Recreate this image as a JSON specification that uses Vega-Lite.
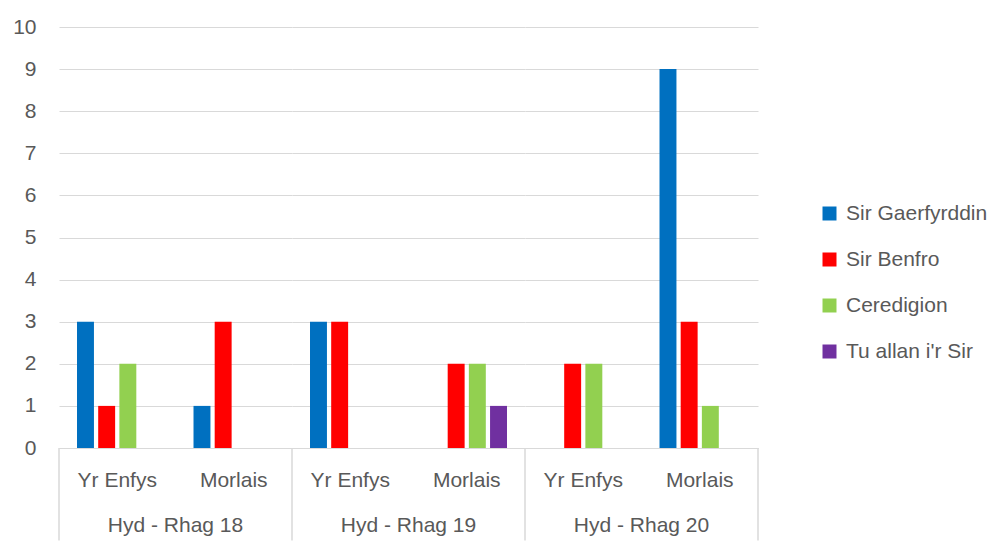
{
  "$schema": "https://vega.github.io/schema/vega-lite/v6.json",
  "padding": {"left": 12, "top": 16, "right": 5, "bottom": 5},
  "background": "white",
  "bounds": "flush",
  "data": {"values": [
    {"period": "Hyd - Rhag 18", "category": "Yr Enfys", "series": "Sir Gaerfyrddin", "value": 3},
    {"period": "Hyd - Rhag 18", "category": "Yr Enfys", "series": "Sir Benfro", "value": 1},
    {"period": "Hyd - Rhag 18", "category": "Yr Enfys", "series": "Ceredigion", "value": 2},
    {"period": "Hyd - Rhag 18", "category": "Yr Enfys", "series": "Tu allan i'r Sir", "value": 0},
    {"period": "Hyd - Rhag 18", "category": "Morlais", "series": "Sir Gaerfyrddin", "value": 1},
    {"period": "Hyd - Rhag 18", "category": "Morlais", "series": "Sir Benfro", "value": 3},
    {"period": "Hyd - Rhag 18", "category": "Morlais", "series": "Ceredigion", "value": 0},
    {"period": "Hyd - Rhag 18", "category": "Morlais", "series": "Tu allan i'r Sir", "value": 0},
    {"period": "Hyd - Rhag 19", "category": "Yr Enfys", "series": "Sir Gaerfyrddin", "value": 3},
    {"period": "Hyd - Rhag 19", "category": "Yr Enfys", "series": "Sir Benfro", "value": 3},
    {"period": "Hyd - Rhag 19", "category": "Yr Enfys", "series": "Ceredigion", "value": 0},
    {"period": "Hyd - Rhag 19", "category": "Yr Enfys", "series": "Tu allan i'r Sir", "value": 0},
    {"period": "Hyd - Rhag 19", "category": "Morlais", "series": "Sir Gaerfyrddin", "value": 0},
    {"period": "Hyd - Rhag 19", "category": "Morlais", "series": "Sir Benfro", "value": 2},
    {"period": "Hyd - Rhag 19", "category": "Morlais", "series": "Ceredigion", "value": 2},
    {"period": "Hyd - Rhag 19", "category": "Morlais", "series": "Tu allan i'r Sir", "value": 1},
    {"period": "Hyd - Rhag 20", "category": "Yr Enfys", "series": "Sir Gaerfyrddin", "value": 0},
    {"period": "Hyd - Rhag 20", "category": "Yr Enfys", "series": "Sir Benfro", "value": 2},
    {"period": "Hyd - Rhag 20", "category": "Yr Enfys", "series": "Ceredigion", "value": 2},
    {"period": "Hyd - Rhag 20", "category": "Yr Enfys", "series": "Tu allan i'r Sir", "value": 0},
    {"period": "Hyd - Rhag 20", "category": "Morlais", "series": "Sir Gaerfyrddin", "value": 9},
    {"period": "Hyd - Rhag 20", "category": "Morlais", "series": "Sir Benfro", "value": 3},
    {"period": "Hyd - Rhag 20", "category": "Morlais", "series": "Ceredigion", "value": 1},
    {"period": "Hyd - Rhag 20", "category": "Morlais", "series": "Tu allan i'r Sir", "value": 0}
  ]},
  "facet": {
    "column": {
      "field": "period", "type": "nominal",
      "sort": ["Hyd - Rhag 18", "Hyd - Rhag 19", "Hyd - Rhag 20"],
      "title": null,
      "header": {"labelOrient": "bottom", "labelFontSize": 21, "labelColor": "#595959", "labelPadding": 25, "labelFont": "Liberation Sans"}
    }
  },
  "spacing": 0,
  "spec": {
    "width": 233,
    "height": 421,
    "layer": [
      {
        "mark": {"type": "bar"},
        "encoding": {
          "x": {"field": "category", "type": "nominal", "sort": ["Yr Enfys", "Morlais"],
                "scale": {"paddingInner": 0, "paddingOuter": 0},
                "axis": {"title": null, "ticks": false, "labelAngle": 0, "domainColor": "#d9d9d9", "labelFontSize": 21, "labelColor": "#595959", "labelPadding": 21}},
          "xOffset": {"field": "series", "type": "nominal", "sort": ["Sir Gaerfyrddin", "Sir Benfro", "Ceredigion", "Tu allan i'r Sir"],
                "scale": {"paddingInner": 0.2, "paddingOuter": 0.85}},
          "y": {"field": "value", "type": "quantitative",
                "scale": {"domain": [0, 10], "nice": false},
                "axis": {"title": null, "values": [0,1,2,3,4,5,6,7,8,9,10], "domain": false, "ticks": false, "gridColor": "#d9d9d9", "labelFontSize": 21, "labelColor": "#595959", "labelPadding": 23}},
          "color": {"field": "series", "type": "nominal",
                "scale": {"domain": ["Sir Gaerfyrddin", "Sir Benfro", "Ceredigion", "Tu allan i'r Sir"], "range": ["#0070C0", "#FF0000", "#92D050", "#7030A0"]},
                "legend": {"title": null, "orient": "none", "legendX": 760, "legendY": 176, "symbolType": "square", "symbolSize": 196, "symbolStrokeWidth": 0, "labelFontSize": 21, "labelColor": "#595959", "rowPadding": 24, "labelOffset": 6}}
        }
      },
      {
        "transform": [{"filter": "datum.category == 'Yr Enfys' && datum.series == 'Sir Gaerfyrddin'"}],
        "mark": {"type": "rule", "color": "#d9d9d9", "strokeWidth": 1.5},
        "encoding": {
          "x": {"field": "category", "type": "nominal", "sort": ["Yr Enfys", "Morlais"], "bandPosition": 0},
          "y": {"datum": 0, "type": "quantitative"},
          "y2": {"datum": -2.2}
        }
      },
      {
        "transform": [{"filter": "datum.period == 'Hyd - Rhag 20' && datum.category == 'Morlais' && datum.series == 'Sir Gaerfyrddin'"}],
        "mark": {"type": "rule", "color": "#d9d9d9", "strokeWidth": 1.5},
        "encoding": {
          "x": {"field": "category", "type": "nominal", "sort": ["Yr Enfys", "Morlais"], "bandPosition": 1},
          "y": {"datum": 0, "type": "quantitative"},
          "y2": {"datum": -2.2}
        }
      }
    ]
  },
  "config": {"view": {"stroke": null}, "font": "Liberation Sans"}
}
